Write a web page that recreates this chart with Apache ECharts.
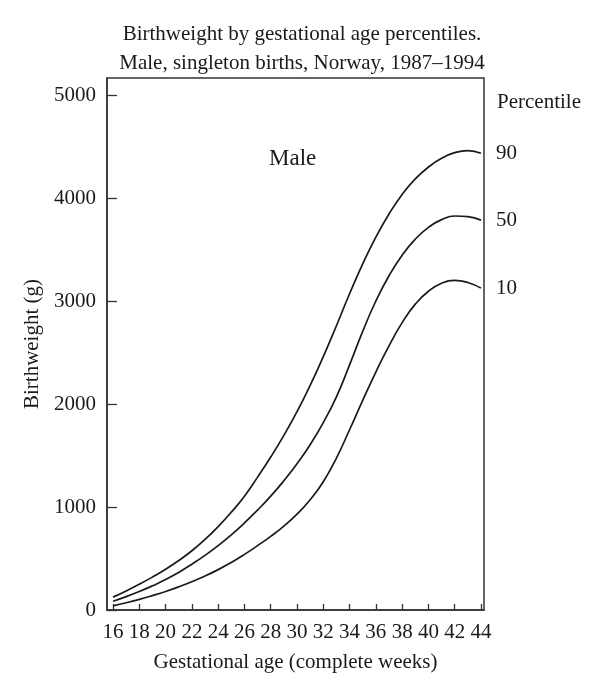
<!DOCTYPE html>
<html>
<head>
<meta charset="utf-8">
<script src="https://cdn.jsdelivr.net/npm/echarts@6/dist/echarts.min.js"></script>
<style>html,body{margin:0;padding:0;background:#fff;}#c{width:600px;height:697px;}</style>
</head>
<body>
<div id="c"></div>
<script>
var weeks = [16,17,18,19,20,21,22,23,24,25,26,27,28,29,30,31,32,33,34,35,36,37,38,39,40,41,42,43,44];
var p90 = [125,185,250,320,395,480,575,685,810,950,1105,1290,1485,1695,1925,2180,2460,2760,3070,3360,3620,3845,4035,4185,4300,4385,4440,4460,4435];
var p50 = [85,130,180,235,295,365,445,530,625,730,845,970,1105,1255,1420,1605,1820,2070,2380,2705,3000,3245,3445,3600,3715,3790,3825,3820,3785];
var p10 = [40,70,103,140,180,225,275,330,392,462,540,625,715,815,930,1070,1245,1475,1750,2035,2310,2565,2790,2970,3095,3172,3200,3180,3125];
var xTicks = [16,18,20,22,24,26,28,30,32,34,36,38,40,42,44];
var yTicks = [0,1000,2000,3000,4000,5000];
var titleLines = ['Birthweight by gestational age percentiles.', 'Male, singleton births, Norway, 1987\u20131994'];

var FONT = '"Liberation Serif", "DejaVu Serif", serif';
var TXT = '#1a1a1a';
function mk(name, vals) {
  return {
    name: name, type: 'line', smooth: 0.5, symbol: 'none',
    data: weeks.map(function (w, i) { return [w, vals[i]]; }),
    lineStyle: { color: '#1a1a1a', width: 1.7 },
    endLabel: { show: true, formatter: name, distance: 15, color: TXT, fontFamily: FONT, fontSize: 21 }
  };
}
var chart = echarts.init(document.getElementById('c'), null, { renderer: 'canvas' });
chart.setOption({
  animation: false,
  backgroundColor: '#fff',
  title: {
    text: titleLines.join('\n'), left: 297, top: 15, textAlign: 'center',
    textStyle: { fontFamily: FONT, fontSize: 21, fontWeight: 'normal', color: TXT, lineHeight: 29 }
  },
  grid: { left: 107, right: 116, top: 78, bottom: 87, show: true, borderColor: '#333', borderWidth: 1.5, backgroundColor: 'transparent' },
  xAxis: {
    type: 'value', min: 15.54, max: 44.23,
    name: 'Gestational age (complete weeks)', nameLocation: 'middle', nameGap: 42,
    nameTextStyle: { fontFamily: FONT, fontSize: 21, color: TXT },
    axisLine: { show: true, lineStyle: { color: '#333', width: 1.5 } },
    axisTick: { show: true, inside: true, length: 6, lineStyle: { color: '#333', width: 1.3 }, customValues: xTicks },
    axisLabel: { fontFamily: FONT, fontSize: 21, color: TXT, margin: 12, customValues: xTicks },
    splitLine: { show: false }
  },
  yAxis: {
    type: 'value', min: 0, max: 5165,
    name: 'Birthweight (g)', nameLocation: 'middle', nameGap: 62, nameRotate: 90,
    nameTextStyle: { fontFamily: FONT, fontSize: 21, color: TXT },
    axisLine: { show: true, lineStyle: { color: '#333', width: 1.5 } },
    axisTick: { show: true, inside: true, length: 10, lineStyle: { color: '#333', width: 1.3 }, customValues: yTicks },
    axisLabel: { fontFamily: FONT, fontSize: 21, color: TXT, margin: 11, customValues: yTicks, formatter: function (v) { return String(v); } },
    splitLine: { show: false }
  },
  graphic: [
    { type: 'text', left: 497, top: 92, style: { text: 'Percentile', font: '21px ' + FONT, fill: TXT } },
    { type: 'text', left: 269, top: 147, style: { text: 'Male', font: '23px ' + FONT, fill: TXT } }
  ],
  series: [mk('90', p90), mk('50', p50), mk('10', p10)]
});
</script>
</body>
</html>
